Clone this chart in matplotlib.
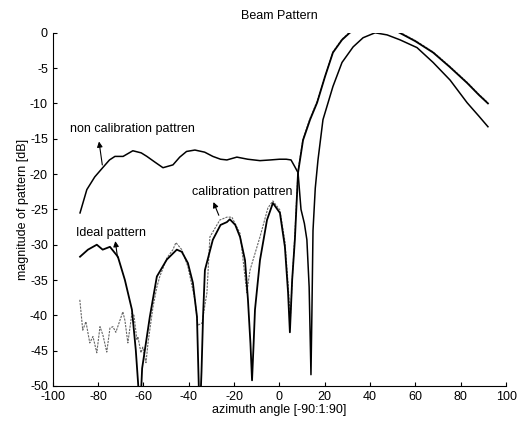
import numpy as np
import matplotlib
matplotlib.use("Agg")
import matplotlib.pyplot as plt

plt.rcParams['font.family'] = ['Liberation Sans', 'DejaVu Sans']
plt.rcParams['axes.unicode_minus'] = False

# values (azimuth deg, magnitude dB)
ideal_x = [-88, -84.5, -80.6, -78, -74.8, -71.3, -68.2, -65.1, -63.4, -62.4, -61.5, -60.6, -57.2,
           -54.1, -49.7, -45.3, -43.1, -40.4, -38.2, -36.4, -35.6, -35.1, -34.4, -33.7, -32.9,
           -29.4, -26, -23.2, -21.9, -19.5, -17.4, -15.2, -13.9, -12.8, -12.1, -11.4, -10.8, -8.6,
           -5.5, -2.9, 0.2, 2.4, 3.8, 4.6, 5.6, 6.8, 8.2, 10.4, 13.5, 16.6, 20.1, 23.6, 27.6, 31,
           36, 42, 48, 53, 60, 67.8, 75, 82.8, 88, 92]
ideal_y = [-31.7, -30.7, -30, -30.7, -30.3, -31.7, -35, -39.2, -44.9, -49.5, -54, -47.5, -40.2,
           -34.5, -32.1, -30.7, -31, -32.6, -35.4, -40.2, -50, -54, -48, -40, -33.6,
           -29.3, -27.2, -26.8, -26.4, -27.2, -28.9, -32.2, -37.8, -44, -49.2, -44, -39.2, -32.2,
           -26.5, -24.1, -25.5, -30.3, -36.8, -42.4, -35, -29.3, -19.8, -15.2, -12.3, -9.9, -6.2,
           -2.8, -1, 0, 0.8, 1.2, 0.8, 0, -1.2, -2.8, -4.8, -7.1, -8.8, -10]

noncal_x = [-88, -85, -81.5, -78, -75, -72.6, -69, -64.7, -61, -58.5, -55, -51.4, -47, -44, -41,
            -37.3, -33, -29.4, -26, -23.2, -18.8, -14, -8.6, -4, 0, 3, 5.1, 6.5, 8.2, 9.5, 11,
            12.1, 13.1, 13.9, 14.3, 14.8, 15.8, 17, 19.2, 23.6, 27.6, 32.5, 36.9, 42.2, 47.5, 53.2,
            60.7, 67.8, 75.3, 82.8, 88, 92]
noncal_y = [-25.5, -22.2, -20.4, -19.1, -18, -17.5, -17.5, -16.7, -17, -17.5, -18.3, -19.1, -18.7,
            -17.6, -16.8, -16.6, -16.9, -17.5, -17.9, -18, -17.6, -17.9, -18.1, -18, -17.9, -17.9,
            -18, -18.8, -19.8, -25, -27, -29.3, -36, -48.4, -40, -28, -22, -18, -12.3, -7.6, -4.2,
            -2, -0.7, 0, -0.3, -1, -2.1, -4.2, -6.7, -9.9, -11.8, -13.3]

cal_x = [-88.1, -86.8, -85.4, -83.7, -82.3, -80.6, -79.2, -77.9, -76.2, -74.8, -73.5, -72.2, -69.1,
         -68.2, -66.9, -65.1, -64.2, -62.9, -62.5, -61.1, -60.3, -58.9, -58, -55.8, -54.1, -52.8,
         -49.7, -47, -45.7, -43.1, -40.4, -37.3, -36, -34.2, -32, -30.7, -26.3, -23.2, -21, -17.4,
         -14.4, -13, -8.6, -5.1, -2.9, 0.2, 2.4, 3.8, 4.8, 5.8, 6.8, 8.2, 10.4, 13.5, 16.6, 20.1,
         23.6, 27.6, 31, 36, 42, 48, 53, 60, 67.8, 75, 82.8, 88, 92]
cal_y = [-37.8, -42.1, -40.9, -43.9, -43, -45.3, -41.6, -42.8, -45.2, -41.8, -41.6, -42.4, -39.5,
         -40.7, -43.9, -39.7, -40, -43.5, -43, -45.3, -44.5, -46.7, -43.9, -38.8, -36, -34.5,
         -31.9, -30.7, -29.7, -30.7, -33.1, -37.8, -41.4, -41.1, -36.8, -28.9, -26.5, -26.1, -26.1,
         -28.4, -36.8, -33.6, -28.9, -24.8, -23.8, -25.1, -29.5, -35.5, -40.5, -34, -28.5, -19.5,
         -15, -12.1, -9.7, -6.1, -2.7, -0.9, 0.1, 0.9, 1.3, 0.9, 0.1, -1.1, -2.7, -4.7, -7.0,
         -8.7, -9.9]

fig = plt.figure(figsize=(5.18, 4.23), dpi=100)
ax = fig.add_axes([0.102, 0.0875, 0.875, 0.835])

ax.plot(noncal_x, noncal_y, color='black', lw=1.1)
ax.plot(cal_x, cal_y, color='0.4', lw=0.8, linestyle=(0, (2, 1)))
ax.plot(ideal_x, ideal_y, color='black', lw=1.3)

ax.set_xlim(-100, 100)
ax.set_ylim(-50, 0)
ax.set_xticks(np.arange(-100, 101, 20))
ax.set_yticks(np.arange(-50, 1, 5))
ax.tick_params(direction='in', labelsize=9, length=3)
for s in ['top', 'right']:
    ax.spines[s].set_visible(False)

ax.set_title("Beam Pattern", fontsize=9, pad=10)
ax.set_xlabel("azimuth angle [-90:1:90]", fontsize=9, labelpad=1)
ax.set_ylabel("magnitude of pattern [dB]", fontsize=9, labelpad=1)

arrow = dict(arrowstyle='-|>', lw=0.8, color='black', mutation_scale=8)
ax.text(-64.7, -13.6, "non calibration pattren", fontsize=9, ha='center', va='center')
ax.annotate('', xy=(-79.8, -15.0), xytext=(-78, -19.1), arrowprops=arrow)
ax.text(-16.6, -22.5, "calibration pattren", fontsize=9, ha='center', va='center')
ax.annotate('', xy=(-29.6, -23.6), xytext=(-26.3, -26.2), arrowprops=arrow)
ax.text(-74.4, -28.3, "Ideal pattern", fontsize=9, ha='center', va='center')
ax.annotate('', xy=(-72.6, -29.1), xytext=(-71.3, -32.2), arrowprops=arrow)

fig.savefig("out.png", dpi=100)
